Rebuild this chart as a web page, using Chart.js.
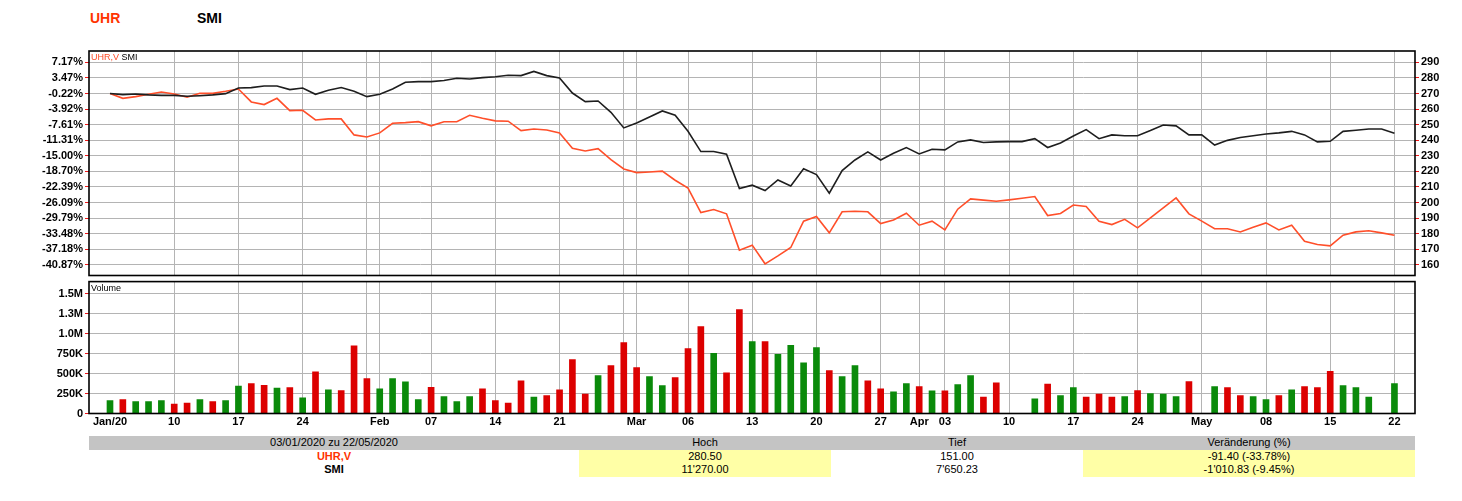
<!DOCTYPE html>
<html>
<head>
<meta charset="utf-8">
<script src="https://cdn.jsdelivr.net/npm/chart.js@4.4.1/dist/chart.umd.min.js"></script>
<style>
  body { margin: 0; width: 1462px; height: 501px; background: #fff; position: relative; overflow: hidden;
         font-family: "Liberation Sans", Arial, sans-serif; }
  canvas { position: absolute; left: 0; }
  #priceChart { top: 0; }
  #volChart { top: 273px; }
  .title { position: absolute; top: 10px; font-size: 14px; font-weight: bold; }
  .small { position: absolute; font-size: 9px; line-height: 11px; }
  #summary { position: absolute; left: 89px; top: 436px; width: 1326px; display: grid;
             grid-template-columns: 490px 252px 252px 332px; grid-auto-rows: 13.5px;
             font-size: 11px; line-height: 13.5px; text-align: center; color: #000; }
  #summary .head { background: #c4c4c4; }
  #summary .hi { background: #ffffa6; }
</style>
</head>
<body>
<div class="title" style="left:90px;color:#ff3300">UHR</div>
<div class="title" style="left:197px;color:#000">SMI</div>
<canvas id="priceChart" width="1462" height="290"></canvas>
<canvas id="volChart" width="1462" height="157"></canvas>
<div class="small" style="left:91px;top:52px"><span style="color:#ff4a25">UHR,V</span> <span>SMI</span></div>
<div class="small" style="left:91px;top:283px">Volume</div>
<div id="summary"></div>

<script>
// trading-day slots (weekdays, holidays keep their slot)
const dates = [
  '03/01',
  '06/01', '07/01', '08/01', '09/01', '10/01',
  '13/01', '14/01', '15/01', '16/01', '17/01',
  '20/01', '21/01', '22/01', '23/01', '24/01',
  '27/01', '28/01', '29/01', '30/01', '31/01',
  '03/02', '04/02', '05/02', '06/02', '07/02',
  '10/02', '11/02', '12/02', '13/02', '14/02',
  '17/02', '18/02', '19/02', '20/02', '21/02',
  '24/02', '25/02', '26/02', '27/02', '28/02',
  '02/03', '03/03', '04/03', '05/03', '06/03',
  '09/03', '10/03', '11/03', '12/03', '13/03',
  '16/03', '17/03', '18/03', '19/03', '20/03',
  '23/03', '24/03', '25/03', '26/03', '27/03',
  '30/03', '31/03', '01/04', '02/04', '03/04',
  '06/04', '07/04', '08/04', '09/04', '10/04',
  '13/04', '14/04', '15/04', '16/04', '17/04',
  '20/04', '21/04', '22/04', '23/04', '24/04',
  '27/04', '28/04', '29/04', '30/04', '01/05',
  '04/05', '05/05', '06/05', '07/05', '08/05',
  '11/05', '12/05', '13/05', '14/05', '15/05',
  '18/05', '19/05', '20/05', '21/05', '22/05',
];

// UHR close (right axis units)
const uhrClose = [
  270.0, 266.9, 268.0, 269.5, 271.0, 269.7, 267.6, 270.1, 270.1, 271.4,
  272.9, 264.6, 262.9, 266.9, 259.0, 259.2, 253.0, 253.7, 253.7, 243.4,
  242.1, 244.7, 250.9, 251.3, 251.9, 249.2, 251.9, 251.9, 256.0, 254.1,
  252.4, 252.2, 246.2, 247.2, 246.6, 244.7, 234.8, 233.1, 234.6, 227.5,
  221.5, 219.2, 219.6, 220.1, 214.3, 209.2, 193.5, 195.5, 192.7, 169.4,
  172.6, 160.6, 165.7, 171.1, 188.0, 191.0, 180.5, 194.0, 194.4, 194.0,
  186.5, 188.8, 193.1, 185.4, 188.0, 182.4, 195.7, 202.3, 201.5, 200.8,
  201.7, 202.7, 203.8, 191.6, 192.9, 198.4, 197.4, 188.0, 185.8, 189.2,
  183.7, 190.1, 196.5, 202.9, 192.7, 188.0, 183.1, 183.1, 181.1, 184.1,
  186.9, 182.4, 185.4, 175.1, 173.0, 172.1, 179.0, 181.1, 181.8, 180.5,
  179.0,
];

// SMI rebased onto the UHR start
const smiRebased = [
  270.0, 269.3, 269.7, 269.1, 268.8, 268.8, 268.2, 268.6, 269.1, 269.9,
  273.5, 273.8, 274.8, 274.8, 272.5, 273.5, 269.5, 272.1, 273.8, 271.4,
  268.0, 269.5, 272.9, 277.2, 277.6, 277.6, 278.3, 279.8, 279.3, 280.2,
  280.8, 281.7, 281.5, 284.2, 281.5, 280.0, 270.3, 264.8, 265.2, 257.9,
  247.9, 251.1, 254.9, 258.8, 256.0, 245.7, 232.7, 232.7, 231.0, 208.9,
  211.1, 207.7, 214.5, 210.6, 221.6, 217.9, 206.0, 220.5, 227.3, 232.5,
  227.3, 231.6, 235.3, 231.2, 234.2, 233.8, 238.9, 240.2, 238.5, 238.9,
  239.1, 239.1, 241.0, 235.3, 238.2, 242.7, 246.8, 241.0, 243.4, 242.9,
  242.9, 246.2, 249.8, 249.2, 243.4, 243.4, 236.9, 239.9, 241.7, 242.9,
  244.0, 244.7, 245.7, 243.4, 238.9, 239.3, 245.7, 246.4, 247.2, 247.2,
  244.5,
];

// UHR volume in thousands, null = exchange closed
const volumeK = [
  162, 175, 150, 150, 162, 117, 129, 175, 150, 162,
  342, 375, 354, 317, 325, 196, 521, 296, 288, 846,
  437, 308, 437, 396, 175, 329, 212, 150, 212, 308,
  162, 129, 408, 204, 225, 296, 675, 242, 475, 600,
  887, 575, 462, 350, 450, 812, 1087, 754, 508, 1300,
  900, 900, 742, 854, 633, 825, 537, 462, 600, 408,
  308, 271, 375, 337, 283, 283, 362, 475, 204, 383,
  null, null, 183, 367, 225, 325, 204, 242, 204, 212,
  288, 250, 242, 212, 400, null, 337, 325, 225, 212,
  175, 225, 296, 337, 325, 529, 350, 325, 204, null,
  375,
];
// u = up day, d = down day
const volumeDir = [
  'uduuuddudu', 'uddudududd', 'duuuuduuud', 'ddduddddud', 'dduudddudd',
  'uduuuuduud', 'duududuudd', '--uduudddu', 'duuud-uddu', 'ududdduuu-', 'u',
].join('').split('');

const priceTicks = [290, 280, 270, 260, 250, 240, 230, 220, 210, 200, 190, 180, 170, 160];
const pctTickLabels = ['7.17%', '3.47%', '-0.22%', '-3.92%', '-7.61%', '-11.31%', '-15.00%',
  '-18.70%', '-22.39%', '-26.09%', '-29.79%', '-33.48%', '-37.18%', '-40.87%'];
const volTicks = [0, 250, 500, 750, 1000, 1250, 1500];
const volTickLabels = ['0', '250K', '500K', '750K', '1.0M', '1.3M', '1.5M'];

const xTickLabels = {
  '03/01': 'Jan/20', '10/01': '10', '17/01': '17', '24/01': '24', '31/01': '',
  '03/02': 'Feb', '07/02': '07', '14/02': '14', '21/02': '21', '28/02': '',
  '02/03': 'Mar', '06/03': '06', '13/03': '13', '20/03': '20', '27/03': '27',
  '01/04': 'Apr', '03/04': '03', '10/04': '10', '17/04': '17', '24/04': '24',
  '01/05': 'May', '08/05': '08', '15/05': '15', '22/05': '22',
};
const noGridDates = ['03/01'];

const summaryHead = ['03/01/2020 zu 22/05/2020', 'Hoch', 'Tief', 'Veränderung (%)'];
const summaryRows = [
  ['UHR,V', '280.50', '151.00', '-91.40 (-33.78%)'],
  ['SMI', "11'270.00", "7'650.23", "-1'010.83 (-9.45%)"],
];

// ---- summary table
const summary = document.getElementById('summary');
summaryHead.forEach(t => {
  const d = document.createElement('div');
  d.className = 'head';
  d.textContent = t;
  summary.appendChild(d);
});
summaryRows.forEach((row, r) => {
  row.forEach((t, c) => {
    const d = document.createElement('div');
    d.textContent = t;
    if (c === 1 || c === 3) d.className = 'hi';
    if (c === 0) {
      d.style.fontWeight = 'bold';
      d.style.color = r === 0 ? '#ff3300' : '#000';
    }
    summary.appendChild(d);
  });
});

// ---- shared settings
const GRID = '#b4b4b4';
const TICK_RED = '#f01818';
const FONT = { family: '"Liberation Sans", Arial, sans-serif', size: 11, weight: 'bold' };
const X_MIN = -1.635, X_MAX = 101.6;

const xTickSlots = Object.keys(xTickLabels).map(d => dates.indexOf(d));
const noGridSlots = noGridDates.map(d => dates.indexOf(d));
const slotLabel = {};
Object.keys(xTickLabels).forEach(d => { slotLabel[dates.indexOf(d)] = xTickLabels[d]; });

function xScale(showLabels) {
  return {
    type: 'linear',
    min: X_MIN,
    max: X_MAX,
    offset: false,
    afterBuildTicks: s => { s.ticks = xTickSlots.map(v => ({ value: v })); },
    afterFit: s => { s.height = showLabels ? 16.5 : 0; },
    border: { display: false },
    grid: {
      offset: false,
      drawTicks: false,
      lineWidth: 1,
      color: ctx => (ctx.tick && noGridSlots.includes(ctx.tick.value)) ? 'rgba(0,0,0,0)' : GRID,
    },
    ticks: {
      display: showLabels,
      autoSkip: false,
      maxRotation: 0,
      padding: 2,
      color: '#000',
      font: FONT,
      callback: v => slotLabel[v] ?? '',
    },
  };
}

const framePlugin = {
  id: 'frame',
  afterDraw(chart) {
    const { ctx, chartArea: a } = chart;
    ctx.save();
    ctx.strokeStyle = '#000';
    ctx.lineWidth = 1.6;
    ctx.strokeRect(a.left, a.top, a.right - a.left, a.bottom - a.top);
    ctx.restore();
  },
};

// ---- price panel
new Chart(document.getElementById('priceChart'), {
  type: 'line',
  data: {
    datasets: [
      {
        label: 'SMI',
        data: smiRebased.map((v, i) => ({ x: i, y: v })),
        borderColor: '#1e1e1e',
        borderWidth: 1.6,
        pointRadius: 0,
        tension: 0,
        yAxisID: 'yPrice',
      },
      {
        label: 'UHR,V',
        data: uhrClose.map((v, i) => ({ x: i, y: v })),
        borderColor: '#ff4f2a',
        borderWidth: 1.6,
        pointRadius: 0,
        tension: 0,
        yAxisID: 'yPrice',
      },
    ],
  },
  options: {
    responsive: false,
    animation: false,
    devicePixelRatio: 1,
    layout: { padding: { top: 51, bottom: 14.5, left: 0, right: 0 } },
    plugins: { legend: { display: false }, tooltip: { enabled: false } },
    scales: {
      x: xScale(false),
      yPct: {
        position: 'left',
        min: 153.1,
        max: 297.3,
        afterBuildTicks: s => { s.ticks = priceTicks.map(v => ({ value: v })); },
        afterFit: s => { s.width = 89; },
        border: { display: false },
        grid: { color: GRID, tickColor: TICK_RED, tickLength: 4 },
        ticks: {
          padding: 2,
          color: '#000',
          font: FONT,
          callback: v => pctTickLabels[priceTicks.indexOf(v)],
        },
      },
      yPrice: {
        position: 'right',
        min: 153.1,
        max: 297.3,
        afterBuildTicks: s => { s.ticks = priceTicks.map(v => ({ value: v })); },
        afterFit: s => { s.width = 47; },
        border: { display: false },
        grid: { drawOnChartArea: false, tickColor: TICK_RED, tickLength: 4 },
        ticks: { padding: 2, color: '#000', font: FONT, callback: v => String(v) },
      },
    },
  },
  plugins: [framePlugin],
});

// ---- volume panel
new Chart(document.getElementById('volChart'), {
  type: 'bar',
  data: {
    datasets: [{
      label: 'Volume',
      data: volumeK.map((v, i) => ({ x: i, y: v })),
      backgroundColor: volumeDir.map(d => d === 'u' ? '#0a8a0a' : '#dc0000'),
      barThickness: 6,
    }],
  },
  options: {
    responsive: false,
    animation: false,
    devicePixelRatio: 1,
    layout: { padding: { top: 7, bottom: 0, left: 0, right: 47 } },
    plugins: { legend: { display: false }, tooltip: { enabled: false } },
    scales: {
      x: xScale(true),
      y: {
        position: 'left',
        min: 0,
        max: 1651,
        afterBuildTicks: s => { s.ticks = volTicks.map(v => ({ value: v })); },
        afterFit: s => { s.width = 89; },
        border: { display: false },
        grid: { color: GRID, tickColor: TICK_RED, tickLength: 4 },
        ticks: {
          padding: 2,
          color: '#000',
          font: FONT,
          callback: v => volTickLabels[volTicks.indexOf(v)],
        },
      },
    },
  },
  plugins: [framePlugin],
});
</script>
</body>
</html>
